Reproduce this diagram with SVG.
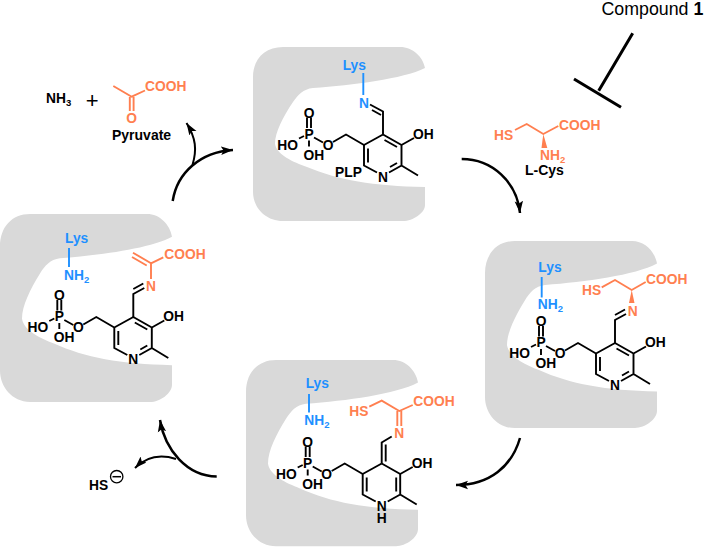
<svg xmlns="http://www.w3.org/2000/svg" xmlns:xlink="http://www.w3.org/1999/xlink" width="705" height="547" viewBox="0 0 705 547">
<style>
text{font-family:"Liberation Sans",Arial,sans-serif;font-weight:bold;font-size:13.8px;fill:#000}
.o{fill:#ff7f50}.b{fill:#1e90ff}
.m{text-anchor:middle}.e{text-anchor:end}
.bk,.ob,.bl{fill:none;stroke-width:1.9;stroke-linecap:butt}
.bk{stroke:#000}.ob{stroke:#ff7f50}.bl{stroke:#1e90ff}
.pocket{fill:#d9d9d9}
.arrow{fill:none;stroke:#000;stroke-width:2.5}
.thin{stroke-width:2}
.sub{font-size:9.5px}
</style>
<defs>
<path id="pocket" d="M30,0H147C160,0 170,10 172,21C150,32 100,38 60,41C50,42 45,48 40,55C30,70 22,85 22,97C24,108 40,115 54,120C85,133 120,139 172,140V158C172,166 160,174 150,174H30C12,174 0,160 0,145V30C0,12 12,0 30,0Z"/>
<path id="skeleton" d="M0,0L-19,10.5V31L-6,38M6,38L18.5,31V10.5L0,0M18.5,10.5L31,3.5M18.5,31L35,41M-19,10.5L-37,0L-50,7.5M-60,8L-69,3M-76,-6.5V-17M-72,-6.5V-17M-74,6V12M-84,4L-79,1.5"/>
<marker id="head" markerUnits="userSpaceOnUse" markerWidth="13" markerHeight="10" refX="12" refY="5" orient="auto"><path d="M0,0.8L12,5L0,9.2L2.5,5Z" fill="#000"/></marker>
</defs>
<g id="connectors">
<path class="arrow" marker-end="url(#head)" d="M172.7,201C177,173 200,152 233,150"/>
<path class="arrow thin" marker-end="url(#head)" d="M192.5,165C197,150 196,138 186.5,123"/>
<path class="arrow" marker-end="url(#head)" d="M461.7,159C492,159 517,182 520,213"/>
<path class="arrow" marker-end="url(#head)" d="M520,438C512,466 490,485 456,485"/>
<path class="arrow" marker-end="url(#head)" d="M216.7,476.5C187,476 165,450 160,420"/>
<path class="arrow thin" marker-end="url(#head)" d="M176,459C160,454 147,456 135,468"/>
<path fill="none" stroke="#000" stroke-width="3" d="M632.7,33.3L598.7,90.7M574,79L621,107.3"/>
</g>
<g id="compound-1"><text x="601.5" y="15" style="font-size:17.8px;font-weight:normal">Compound <tspan style="font-weight:bold">1</tspan></text></g>
<g id="pyruvate">
<path class="ob" d="M113.3,86L131.7,96.7L145,90.5M129.8,97V111M133.6,97V111"/>
<text class="o" x="145" y="91">COOH</text>
<text class="o m" x="131.5" y="123">O</text>
<text x="112" y="140" style="font-size:14px">Pyruvate</text>
</g>
<g id="ammonia"><text x="46" y="103">NH<tspan class="sub" dy="3">3</tspan></text></g>
<g id="plus"><text class="m" x="92.3" y="108" style="font-size:22px;font-weight:normal">+</text></g>
<g id="l-cys">
<path class="ob" d="M515,130L526.7,124L543.3,134L558.3,126"/>
<path d="M543.3,134L547.3,148H541.5Z" fill="#ff7f50"/>
<text class="o" x="494" y="140">HS</text>
<text class="o" x="559" y="129.5">COOH</text>
<text class="o" x="540" y="160">NH<tspan class="sub" dy="3">2</tspan></text>
<text x="525" y="175" style="font-size:14px">L-Cys</text>
</g>
<g id="hs-anion">
<text x="89" y="490">HS</text>
<circle cx="116.7" cy="476.7" r="6.2" fill="none" stroke="#000" stroke-width="1.3"/>
<path d="M112.5,476.7H121" stroke="#000" stroke-width="1.5"/>
</g>
<g id="plp-lys">
<use href="#pocket" class="pocket" transform="translate(253,47)"/>
<path class="bl" d="M363.3,73V95"/>
<text class="b" x="342.7" y="70">Lys</text>
<text class="b m" x="364" y="108">N</text>
<g transform="translate(383,134.5)">
<use href="#skeleton" class="bk"/>
<path class="bk" d="M0,0V-23L-13,-30M-2,-19.5L-11,-24.5M1.5,5.5L14,12.5M-15,14V28M14,28.5L7,32.5"/>
<text class="m" x="-74" y="-17">O</text><text class="m" x="-74" y="4">P</text><text class="e" x="-85" y="15">HO</text><text x="-79.5" y="25">OH</text><text class="m" x="-55" y="15">O</text><text x="30" y="4">OH</text><text class="m" x="0" y="47">N</text>
</g>
<text x="335" y="177">PLP</text>
</g>
<g id="external-aldimine">
<use href="#pocket" class="pocket" transform="translate(485,241) scale(1,1.075)"/>
<path class="bl" d="M541.7,277V297.5"/>
<text class="b" x="538.3" y="271.7">Lys</text>
<text class="b" x="537.7" y="308.5">NH<tspan class="sub" dy="3">2</tspan></text>
<path class="ob" d="M601.7,287.3L615,280L631.7,290L645.7,282"/>
<path d="M631.7,290L634.5,303H629Z" fill="#ff7f50"/>
<text class="o" x="582" y="295">HS</text>
<text class="o" x="646" y="284">COOH</text>
<text class="o m" x="632.7" y="316">N</text>
<g transform="translate(615,343)">
<use href="#skeleton" class="bk"/>
<path class="bk" d="M0,0V-23L11,-29M0,-28L10,-33.5M1.5,5.5L14,12.5M-15,14V28M14,28.5L7,32.5"/>
<text class="m" x="-74" y="-17">O</text><text class="m" x="-74" y="4">P</text><text class="e" x="-85" y="15">HO</text><text x="-79.5" y="25">OH</text><text class="m" x="-55" y="15">O</text><text x="30" y="4">OH</text><text class="m" x="0" y="47">N</text>
</g>
</g>
<g id="quinonoid">
<use href="#pocket" class="pocket" transform="translate(246,360) scale(1,1.07)"/>
<path class="bl" d="M309,394V412.5"/>
<text class="b" x="305.7" y="387.7">Lys</text>
<text class="b" x="304.3" y="424.5">NH<tspan class="sub" dy="3">2</tspan></text>
<path class="ob" d="M369.3,406.7L381.7,400.7L399.3,411L412.7,405M397.3,411V426M401.3,411V426"/>
<text class="o" x="349.3" y="416">HS</text>
<text class="o" x="413.3" y="405.7">COOH</text>
<text class="o m" x="399.3" y="437.5">N</text>
<g transform="translate(381.7,463.5)">
<use href="#skeleton" class="bk"/>
<path class="bk" d="M0,0V-21L10,-27M4,-2V-19M-15,14V28M14.5,14V28"/>
<text class="m" x="-74" y="-17">O</text><text class="m" x="-74" y="4">P</text><text class="e" x="-85" y="15">HO</text><text x="-79.5" y="25">OH</text><text class="m" x="-55" y="15">O</text><text x="30" y="4">OH</text><text class="m" x="0" y="47">N</text><text class="m" x="0" y="59">H</text>
</g>
</g>
<g id="aminoacrylate">
<use href="#pocket" class="pocket" transform="translate(0,214) scale(1,1.08)"/>
<path class="bl" d="M69,248V267"/>
<text class="b" x="65" y="242.7">Lys</text>
<text class="b" x="64" y="280">NH<tspan class="sub" dy="3">2</tspan></text>
<path class="ob" d="M163.3,257.3L151,263.3V279M151,263.3L133,252.7M146.7,265.5L132,257"/>
<text class="o" x="164.3" y="259">COOH</text>
<text class="o m" x="151" y="291">N</text>
<g transform="translate(133.3,317)">
<use href="#skeleton" class="bk"/>
<path class="bk" d="M0,0V-23L11,-29M0,-28L10,-33.5M1.5,5.5L14,12.5M-15,14V28M14,28.5L7,32.5"/>
<text class="m" x="-74" y="-17">O</text><text class="m" x="-74" y="4">P</text><text class="e" x="-85" y="15">HO</text><text x="-79.5" y="25">OH</text><text class="m" x="-55" y="15">O</text><text x="30" y="4">OH</text><text class="m" x="0" y="47">N</text>
</g>
</g>
</svg>
